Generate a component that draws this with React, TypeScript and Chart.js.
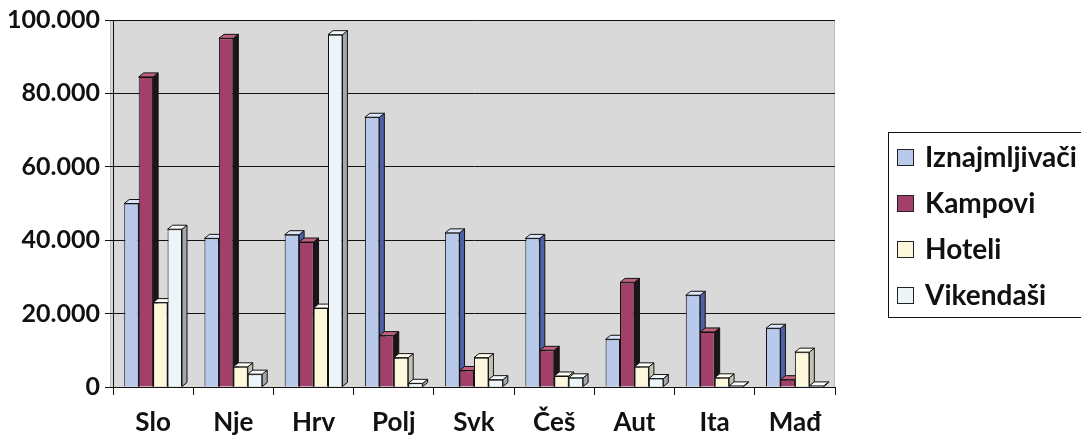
import React, { useEffect, useRef } from "react";
import { Chart, registerables } from "chart.js";

Chart.register(...registerables);

const categories = ["Slo", "Nje", "Hrv", "Polj", "Svk", "Češ", "Aut", "Ita", "Mađ"];
const seriesNames = ["Iznajmljivači", "Kampovi", "Hoteli", "Vikendaši"];
const iznajmljivaci = [50000, 40500, 41500, 73500, 42000, 40500, 13000, 25000, 16000];
const kampovi = [84500, 95000, 39500, 14000, 4500, 10000, 28500, 15000, 2000];
const hoteli = [23000, 5500, 21500, 8000, 8000, 3000, 5500, 2500, 9500];
const vikendasi = [43000, 3500, 96000, 1000, 2000, 2500, 2300, 300, 300];
const yTicks = [0, 20000, 40000, 60000, 80000, 100000];

const frontColors = ["#b9c9ec", "#a3406a", "#fdf8dc", "#eef5f9"];
const sideColors = ["#4d62a6", "#1c1416", "#c4c2b2", "#a4a6a8"];
const topColors = ["#dbe4f8", "#c0607f", "#fffdf0", "#fafdff"];

const FONT = "Lato, 'Noto Sans', sans-serif";

const fmt = (v: number) => String(v).replace(/\B(?=(\d{3})+(?!\d))/g, ".");

const bgPlugin = {
  id: "plotBg",
  beforeDraw(chart: any) {
    const { ctx, chartArea } = chart;
    ctx.save();
    ctx.fillStyle = "#d9d9d9";
    ctx.fillRect(chartArea.left - 3, chartArea.top, chartArea.right - chartArea.left + 3, chartArea.bottom - chartArea.top);
    ctx.strokeStyle = "#bdbdbd";
    ctx.lineWidth = 1;
    ctx.strokeRect(chartArea.left - 3 + 0.5, chartArea.top + 0.5, chartArea.right - chartArea.left + 2, chartArea.bottom - chartArea.top);
    ctx.restore();
  },
};

const depthPlugin = {
  id: "depth3d",
  beforeDatasetsDraw(chart: any) {
    const ctx = chart.ctx;
    const d = 5;
    const dy = 4;
    ctx.save();
    ctx.lineWidth = 1;
    ctx.strokeStyle = "#111";
    chart.data.datasets.forEach((_ds: any, di: number) => {
      const meta = chart.getDatasetMeta(di);
      meta.data.forEach((bar: any) => {
        const p = bar.getProps(["x", "y", "base", "width"], true);
        const l = p.x - p.width / 2;
        const r = p.x + p.width / 2;
        const t = Math.min(p.y, p.base);
        const b = Math.max(p.y, p.base);
        ctx.beginPath();
        ctx.moveTo(r, t);
        ctx.lineTo(r + d, t - dy);
        ctx.lineTo(r + d, b - dy);
        ctx.lineTo(r, b);
        ctx.closePath();
        ctx.fillStyle = sideColors[di];
        ctx.fill();
        ctx.stroke();
        ctx.beginPath();
        ctx.moveTo(l, t);
        ctx.lineTo(l + d, t - dy);
        ctx.lineTo(r + d, t - dy);
        ctx.lineTo(r, t);
        ctx.closePath();
        ctx.fillStyle = topColors[di];
        ctx.fill();
        ctx.stroke();
      });
    });
    ctx.restore();
  },
};

const legendPlugin = {
  id: "boxLegend",
  afterDraw(chart: any) {
    const { ctx, chartArea } = chart;
    const bx = chartArea.right + 53;
    const by = 132;
    ctx.save();
    ctx.strokeStyle = "#111";
    ctx.lineWidth = 1;
    ctx.strokeRect(bx + 0.5, by + 0.5, 260, 185);
    ctx.font = `bold 28px ${FONT}`;
    ctx.textBaseline = "middle";
    ctx.textAlign = "left";
    chart.data.datasets.forEach((ds: any, i: number) => {
      const cy = by + 25 + i * 46;
      ctx.fillStyle = frontColors[i];
      ctx.fillRect(bx + 9, cy - 8, 17, 17);
      ctx.strokeStyle = "#222";
      ctx.strokeRect(bx + 9.5, cy - 7.5, 16, 16);
      ctx.fillStyle = "#111";
      ctx.fillText(ds.label, bx + 37, cy + 1);
    });
    ctx.restore();
  },
};

export default function App() {
  const ref = useRef<HTMLCanvasElement | null>(null);
  useEffect(() => {
    if (!ref.current) return;
    const series = [iznajmljivaci, kampovi, hoteli, vikendasi];
    const chart = new Chart(ref.current, {
      type: "bar",
      data: {
        labels: categories,
        datasets: series.map((data, i) => ({
          label: seriesNames[i],
          data,
          backgroundColor: frontColors[i],
          borderColor: "#111",
          borderWidth: 1,
          categoryPercentage: 0.72,
          barPercentage: 1,
        })),
      },
      options: {
        animation: false,
        responsive: true,
        maintainAspectRatio: false,
        layout: { padding: { top: 17, right: 246, left: 0, bottom: 0 } },
        plugins: { legend: { display: false }, tooltip: { enabled: false } },
        scales: {
          y: {
            min: 0,
            max: 100000,
            afterFit: (s: any) => { s.width = 113; },
            afterBuildTicks: (s: any) => { s.ticks = yTicks.map((v) => ({ value: v })); },
            ticks: {
              callback: (v: any) => fmt(Number(v)),
              color: "#111",
              padding: 5,
              font: { family: FONT, size: 25, weight: "bold" },
            },
            grid: { color: "#111", lineWidth: 1, tickLength: 8, drawTicks: true },
            border: { color: "#111", width: 1 },
          },
          x: {
            afterFit: (s: any) => { s.height = 51; },
            ticks: {
              color: "#111",
              padding: 12,
              font: { family: FONT, size: 26, weight: "bold" },
            },
            grid: { drawOnChartArea: false, color: "#111", tickLength: 8, offset: true },
            border: { color: "#111", width: 1 },
          },
        },
      },
      plugins: [bgPlugin, depthPlugin, legendPlugin],
    });
    return () => chart.destroy();
  }, []);
  return (
    <div style={{ position: "fixed", left: 0, top: 0, width: 1081, height: 438, background: "#fff" }}>
      <canvas ref={ref} />
    </div>
  );
}
